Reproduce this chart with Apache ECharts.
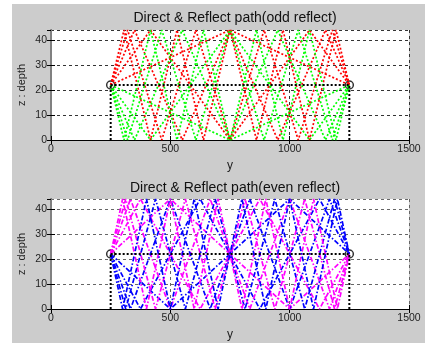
<!DOCTYPE html>
<html>
<head>
<meta charset="utf-8">
<script src="https://cdn.jsdelivr.net/npm/echarts@6/dist/echarts.min.js"></script>
<style>
  html, body { margin: 0; padding: 0; background: #fff; }
  #chart { width: 425px; height: 343px; }
</style>
</head>
<body>
<div id="chart"></div>
<script>
// source / receiver (range, depth)
var srcPos = [250, 22];
var rcvPos = [1250, 22];
var depthTop = 44;
var depthBottom = 0;

// x of each boundary hit, one row per ray family (1,3,5,7,9 hits)
var oddBounces = [
  [750],
  [417, 750, 1083],
  [350, 550, 750, 950, 1150],
  [321, 464, 607, 750, 893, 1036, 1179],
  [306, 417, 528, 639, 750, 861, 972, 1083, 1194]
];
// 2,4,6,8,10 hits
var evenBounces = [
  [500, 1000],
  [375, 625, 875, 1125],
  [333, 500, 667, 833, 1000, 1167],
  [313, 438, 563, 688, 813, 938, 1063, 1188],
  [300, 400, 500, 600, 700, 800, 900, 1000, 1100, 1200]
];

var xTicks = [0, 500, 1000, 1500];
var yTicks = [0, 10, 20, 30, 40];

var FONT = 'Liberation Sans, Arial, sans-serif';
var DOTTED = [2, 2];
var DASHDOT = [5, 2, 1.5, 2];

// path through the bounces, first hit at depth "first"
function rayPath(bounces, first, second) {
  var pts = [srcPos.slice()];
  bounces.forEach(function (b, i) {
    pts.push([b, i % 2 === 0 ? first : second]);
  });
  pts.push(rcvPos.slice());
  return pts;
}

function lineSeries(gi, data, color, dash, width) {
  return {
    type: 'line',
    xAxisIndex: gi * 2,
    yAxisIndex: gi * 2,
    data: data,
    showSymbol: false,
    silent: true,
    animation: false,
    lineStyle: {color: color, width: width || 1.7, type: dash}
  };
}

var series = [];
oddBounces.forEach(function (b) {
  series.push(lineSeries(0, rayPath(b, depthTop, depthBottom), '#ff0000', DOTTED));
  series.push(lineSeries(0, rayPath(b, depthBottom, depthTop), '#00ff00', DOTTED));
});
evenBounces.forEach(function (b) {
  series.push(lineSeries(1, rayPath(b, depthTop, depthBottom), '#ff00ff', DASHDOT));
  series.push(lineSeries(1, rayPath(b, depthBottom, depthTop), '#0000ff', DASHDOT));
});
[0, 1].forEach(function (gi) {
  // direct path + markers down to the bottom
  series.push(lineSeries(gi, [srcPos, rcvPos], '#000', DOTTED, 2));
  series.push(lineSeries(gi, [[srcPos[0], depthBottom], srcPos], '#000', DOTTED, 2));
  series.push(lineSeries(gi, [[rcvPos[0], depthBottom], rcvPos], '#000', DOTTED, 2));
  series.push({
    type: 'scatter',
    xAxisIndex: gi * 2,
    yAxisIndex: gi * 2,
    data: [srcPos, rcvPos],
    symbol: 'circle',
    symbolSize: 8,
    silent: true,
    animation: false,
    itemStyle: {color: 'rgba(0,0,0,0)', borderColor: '#000', borderWidth: 1.5}
  });
});

function plain(v) { return String(v); }

function xAxes(gi, gridColor) {
  return [{
    type: 'value',
    gridIndex: gi,
    min: xTicks[0],
    max: xTicks[xTicks.length - 1],
    interval: xTicks[1] - xTicks[0],
    name: 'y',
    nameLocation: 'middle',
    nameGap: 20,
    nameMoveOverlap: false,
    nameTextStyle: {fontFamily: FONT, fontSize: 12, color: '#222'},
    axisLine: {lineStyle: {color: '#000', width: 1}},
    axisTick: {inside: true, length: 4, lineStyle: {color: '#000'}},
    axisLabel: {fontFamily: FONT, fontSize: 10.5, color: '#222', margin: 4, formatter: plain},
    splitLine: {show: true, lineStyle: {color: gridColor, type: [3, 3], width: 1}}
  }, {
    type: 'value',
    gridIndex: gi,
    position: 'top',
    min: xTicks[0],
    max: xTicks[xTicks.length - 1],
    interval: xTicks[1] - xTicks[0],
    axisLine: {lineStyle: {color: '#000', width: 1}},
    axisTick: {inside: true, length: 4, lineStyle: {color: '#000'}},
    axisLabel: {show: false},
    splitLine: {show: false}
  }];
}

function yAxes(gi, gridColor) {
  return [{
    type: 'value',
    gridIndex: gi,
    min: yTicks[0],
    max: depthTop,
    interval: yTicks[1] - yTicks[0],
    name: 'z : depth',
    nameLocation: 'middle',
    nameGap: 24,
    nameMoveOverlap: false,
    nameTextStyle: {fontFamily: FONT, fontSize: 11, color: '#222'},
    axisLine: {lineStyle: {color: '#000', width: 1}},
    axisTick: {inside: true, length: 4, lineStyle: {color: '#000'}},
    axisLabel: {fontFamily: FONT, fontSize: 10.5, color: '#222', margin: 4, showMaxLabel: false, formatter: plain},
    splitLine: {show: true, lineStyle: {color: gridColor, type: [3, 3], width: 1}}
  }, {
    type: 'value',
    gridIndex: gi,
    position: 'right',
    min: yTicks[0],
    max: depthTop,
    interval: yTicks[1] - yTicks[0],
    axisLine: {lineStyle: {color: '#808080', width: 2}},
    axisTick: {inside: true, length: 4, lineStyle: {color: '#000'}},
    axisLabel: {show: false},
    splitLine: {show: false}
  }];
}

var chart = echarts.init(document.getElementById('chart'), null, {renderer: 'canvas'});
chart.setOption({
  backgroundColor: '#ffffff',
  animation: false,
  graphic: [{
    type: 'rect',
    z: -10,
    silent: true,
    shape: {x: 12, y: 4, width: 413, height: 339},
    style: {fill: '#cccccc'}
  }],
  title: [{
    text: 'Direct & Reflect path(odd reflect)',
    left: 230, top: 6, textAlign: 'center',
    textStyle: {fontFamily: FONT, fontSize: 14, fontWeight: 'normal', color: '#111'}
  }, {
    text: 'Direct & Reflect path(even reflect)',
    left: 230, top: 176, textAlign: 'center',
    textStyle: {fontFamily: FONT, fontSize: 14, fontWeight: 'normal', color: '#111'}
  }],
  grid: [
    {left: 51, top: 30, width: 358, height: 110, show: true, backgroundColor: '#fff', borderWidth: 0},
    {left: 51, top: 199, width: 358, height: 110, show: true, backgroundColor: '#fff', borderWidth: 0}
  ],
  xAxis: xAxes(0, '#333').concat(xAxes(1, '#666')),
  yAxis: yAxes(0, '#333').concat(yAxes(1, '#666')),
  series: series
});
</script>
</body>
</html>
